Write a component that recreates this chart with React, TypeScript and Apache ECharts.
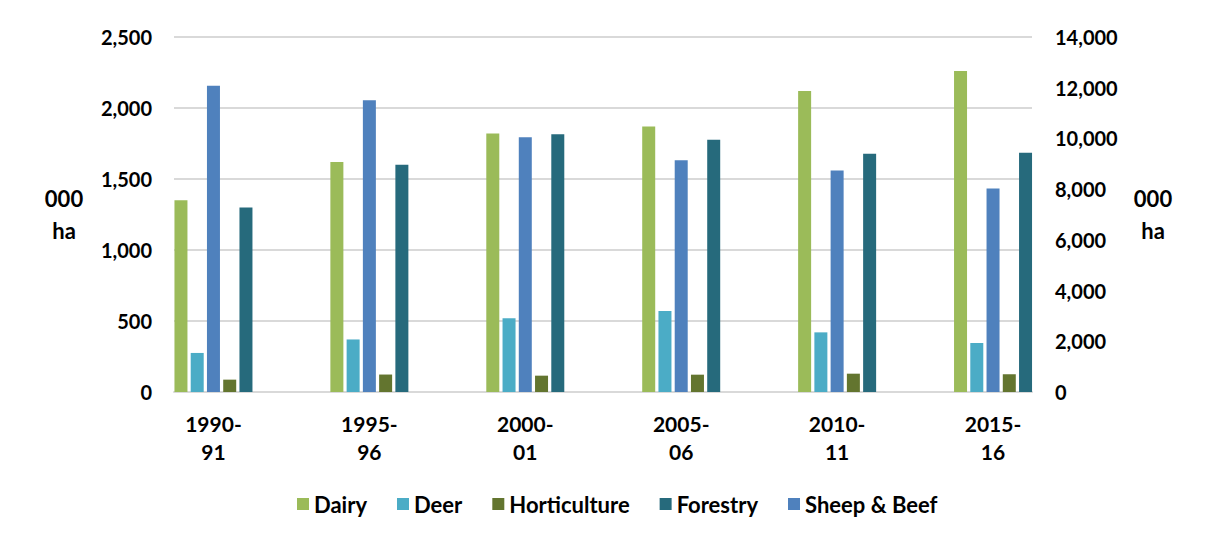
import React, { useEffect, useRef } from "react";
import * as echarts from "echarts";

// Land use by farm type, thousand hectares
const periods = ["1990-\n91", "1995-\n96", "2000-\n01", "2005-\n06", "2010-\n11", "2015-\n16"];
const dairy = [1350, 1620, 1820, 1870, 2120, 2260];
const deer = [275, 370, 520, 570, 420, 345];
const horticulture = [87, 123, 115, 122, 129, 125];
const forestry = [1300, 1600, 1815, 1777, 1678, 1684];
// Sheep & Beef is read against the right-hand axis
const sheepBeef = [12080, 11510, 10050, 9140, 8740, 8030];

const legendOrder = ["Dairy", "Deer", "Horticulture", "Forestry", "Sheep & Beef"];

const FONT = "Lato";
const fmt = (v: number) => v.toLocaleString("en-US");

export default function App() {
  const ref = useRef<HTMLDivElement>(null);

  useEffect(() => {
    if (!ref.current) return;
    const chart = echarts.init(ref.current, null, { renderer: "svg" });

    const tickText = { color: "#000", fontFamily: FONT, fontWeight: "bold" as const, fontSize: 20 };
    const nameText = {
      color: "#000",
      fontFamily: FONT,
      fontWeight: "bold" as const,
      fontSize: 22,
      lineHeight: 32,
      align: "center" as const,
      verticalAlign: "middle" as const,
    };

    const bar = (name: string, data: number[], yAxisIndex: number, color: string) => ({
      name,
      type: "bar",
      data,
      xAxisIndex: 0,
      yAxisIndex,
      barWidth: 13,
      barGap: "25%",
      itemStyle: { color },
    });

    chart.setOption({
      animation: false,
      backgroundColor: "#fff",
      grid: [
        // bars
        { left: 127.5, top: 29, width: 935.5, height: 355 },
        // visible axes and gridlines
        { left: 166, top: 29, width: 858, height: 355 },
      ],
      xAxis: [
        {
          type: "category",
          gridIndex: 0,
          data: periods,
          axisLine: { show: false },
          axisTick: { show: false },
          axisLabel: {
            ...tickText,
            fontSize: 21,
            lineHeight: 28,
            margin: 17,
            interval: 0,
          },
        },
        {
          type: "category",
          gridIndex: 1,
          data: periods,
          axisLine: { show: true, lineStyle: { color: "#d9d9d9", width: 2 } },
          axisTick: { show: false },
          axisLabel: { show: false },
        },
      ],
      yAxis: [
        {
          type: "value",
          gridIndex: 1,
          position: "left",
          min: 0,
          max: 2500,
          interval: 500,
          axisLine: { show: false },
          axisTick: { show: false },
          axisLabel: { ...tickText, margin: 22, formatter: fmt },
          splitLine: { show: true, lineStyle: { color: "#d9d9d9", width: 2 } },
          name: "000\nha",
          nameLocation: "middle",
          nameRotate: 0,
          nameGap: 110,
          nameTextStyle: nameText,
        },
        {
          type: "value",
          gridIndex: 1,
          position: "right",
          min: 0,
          max: 14000,
          interval: 2000,
          axisLine: { show: false },
          axisTick: { show: false },
          axisLabel: { ...tickText, margin: 23, formatter: fmt },
          splitLine: { show: false },
          name: "000\nha",
          nameLocation: "middle",
          nameRotate: 0,
          nameGap: 121,
          nameTextStyle: nameText,
        },
        { type: "value", gridIndex: 0, min: 0, max: 2500, show: false, splitLine: { show: false } },
        { type: "value", gridIndex: 0, min: 0, max: 14000, show: false, splitLine: { show: false } },
      ],
      legend: {
        data: legendOrder,
        top: 480,
        left: 284,
        icon: "rect",
        itemWidth: 12,
        itemHeight: 12,
        itemGap: 30,
        textStyle: { color: "#000", fontFamily: FONT, fontWeight: "bold", fontSize: 22 },
      },
      series: [
        bar("Dairy", dairy, 2, "#9BBB59"),
        bar("Deer", deer, 2, "#4BACC6"),
        bar("Sheep & Beef", sheepBeef, 3, "#4F81BD"),
        bar("Horticulture", horticulture, 2, "#63752F"),
        bar("Forestry", forestry, 2, "#266A7C"),
      ],
    });

    return () => chart.dispose();
  }, []);

  return (
    <div
      style={{
        marginLeft: -2,
        marginTop: -2,
        borderLeft: "2px solid #d9d9d9",
        borderTop: "2px solid #d9d9d9",
        width: 1191,
        height: 526,
      }}
    >
      <div ref={ref} style={{ width: 1189, height: 524 }} />
    </div>
  );
}
